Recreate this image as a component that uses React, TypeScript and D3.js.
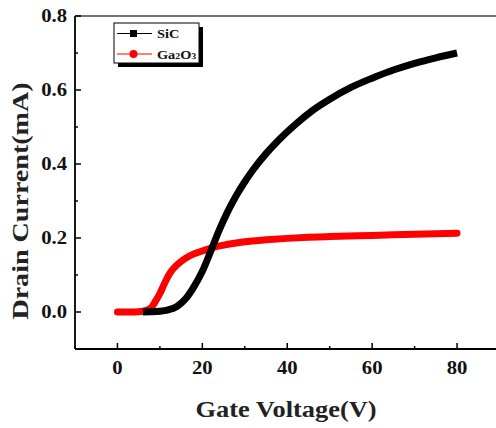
import React from "react";
import * as d3 from "d3";

const sicV = [6, 8, 10, 12, 14, 16, 18, 20, 22, 24, 26, 28, 30, 32, 35, 38, 42, 46, 50, 55, 60, 65, 70, 75, 80];
const sicI = [0, 0.0005, 0.002, 0.006, 0.015, 0.035, 0.068, 0.11, 0.165, 0.222, 0.272, 0.315, 0.352, 0.385, 0.428, 0.465, 0.508, 0.545, 0.575, 0.607, 0.632, 0.654, 0.672, 0.687, 0.7];
const gaV = [0, 4, 6, 8, 9, 10, 11, 12, 13, 14, 16, 18, 20, 23, 26, 30, 35, 40, 45, 50, 60, 70, 80];
const gaI = [0, 0, 0.002, 0.012, 0.03, 0.05, 0.075, 0.098, 0.115, 0.127, 0.145, 0.157, 0.165, 0.176, 0.183, 0.19, 0.195, 0.199, 0.202, 0.204, 0.207, 0.21, 0.213];
const xTicks = [0, 20, 40, 60, 80];
const xMinor = [-10, 10, 30, 50, 70];
const yTicks = [0, 0.2, 0.4, 0.6, 0.8];
const yMinor = [-0.1, 0.1, 0.3, 0.5, 0.7];

const FONT = "'Liberation Serif', 'Times New Roman', serif";

export default function App() {
  const left = 75, right = 499.5, top = 16, bottom = 349;
  const x = d3.scaleLinear().domain([-10, 90]).range([left, right]);
  const y = d3.scaleLinear().domain([-0.1, 0.8]).range([bottom, top]);
  const line = d3
    .line<[number, number]>()
    .x((d) => x(d[0]))
    .y((d) => y(d[1]))
    .curve(d3.curveMonotoneX);
  const sic = line(sicV.map((v, i) => [v, sicI[i]]) as [number, number][]) || "";
  const ga = line(gaV.map((v, i) => [v, gaI[i]]) as [number, number][]) || "";

  return (
    <svg
      width={496}
      height={428}
      style={{ position: "absolute", left: 0, top: 0, background: "#fff" }}
      fontFamily={FONT}
      fontWeight="bold"
    >
      <rect x={0} y={0} width={496} height={428} fill="#fff" />
      {/* frame */}
      <line x1={left} x2={496} y1={top} y2={top} stroke="#444" strokeWidth={1.5} />
      <line x1={left} x2={496} y1={bottom} y2={bottom} stroke="#000" strokeWidth={1.8} />
      <line x1={left} x2={left} y1={top} y2={bottom} stroke="#000" strokeWidth={1.8} />

      {/* x ticks */}
      {xTicks.map((t) => (
        <g key={"xt" + t}>
          <line x1={x(t)} x2={x(t)} y1={bottom} y2={bottom - 6} stroke="#000" strokeWidth={1.5} />
          <text
            transform={`translate(${x(t)},374) scale(1.15,1)`}
            textAnchor="middle"
            fontSize={18}
            fill="#111"
          >
            {t}
          </text>
        </g>
      ))}
      {xMinor.map((t) => (
        <line key={"xm" + t} x1={x(t)} x2={x(t)} y1={bottom} y2={bottom - 3} stroke="#000" strokeWidth={1.5} />
      ))}

      {/* y ticks */}
      {yTicks.map((t) => (
        <g key={"yt" + t}>
          <line x1={left} x2={left + 6} y1={y(t)} y2={y(t)} stroke="#000" strokeWidth={1.5} />
          <text
            transform={`translate(67,${y(t) + 6}) scale(1.15,1)`}
            textAnchor="end"
            fontSize={18}
            fill="#111"
          >
            {t.toFixed(1)}
          </text>
        </g>
      ))}
      {yMinor.map((t) => (
        <line key={"ym" + t} x1={left} x2={left + 3} y1={y(t)} y2={y(t)} stroke="#000" strokeWidth={1.5} />
      ))}

      {/* data */}
      <path d={ga} fill="none" stroke="#ff0000" strokeWidth={7} strokeLinecap="round" strokeLinejoin="round" />
      <path d={sic} fill="none" stroke="#000" strokeWidth={7} strokeLinecap="butt" strokeLinejoin="round" />

      {/* legend */}
      <rect x={118} y={27} width={85} height={40} fill="#000" />
      <rect x={114} y={23} width={85} height={40} fill="#fff" stroke="#000" strokeWidth={1} />
      <line x1={117} x2={152} y1={33.5} y2={33.5} stroke="#000" strokeWidth={1.2} />
      <rect x={130} y={30} width={7} height={7} fill="#000" />
      <text transform="translate(157,38) scale(1.1,1)" fontSize={13} fill="#111">SiC</text>
      <line x1={117} x2={152} y1={54} y2={54} stroke="#ff0000" strokeWidth={1.2} />
      <circle cx={133.5} cy={54} r={4} fill="#ff0000" />
      <text transform="translate(157,58.5) scale(1.1,1)" fontSize={13} fill="#111">
        Ga<tspan fontSize={9}>2</tspan>O<tspan fontSize={9}>3</tspan>
      </text>

      {/* axis titles */}
      <text
        transform="translate(286,417) scale(1.1,1)"
        textAnchor="middle"
        fontSize={24}
        fill="#222"
      >
        Gate Voltage(V)
      </text>
      <text
        transform="translate(28,201) rotate(-90) scale(1.17,1)"
        textAnchor="middle"
        fontSize={24}
        fill="#222"
      >
        Drain Current(mA)
      </text>
    </svg>
  );
}
